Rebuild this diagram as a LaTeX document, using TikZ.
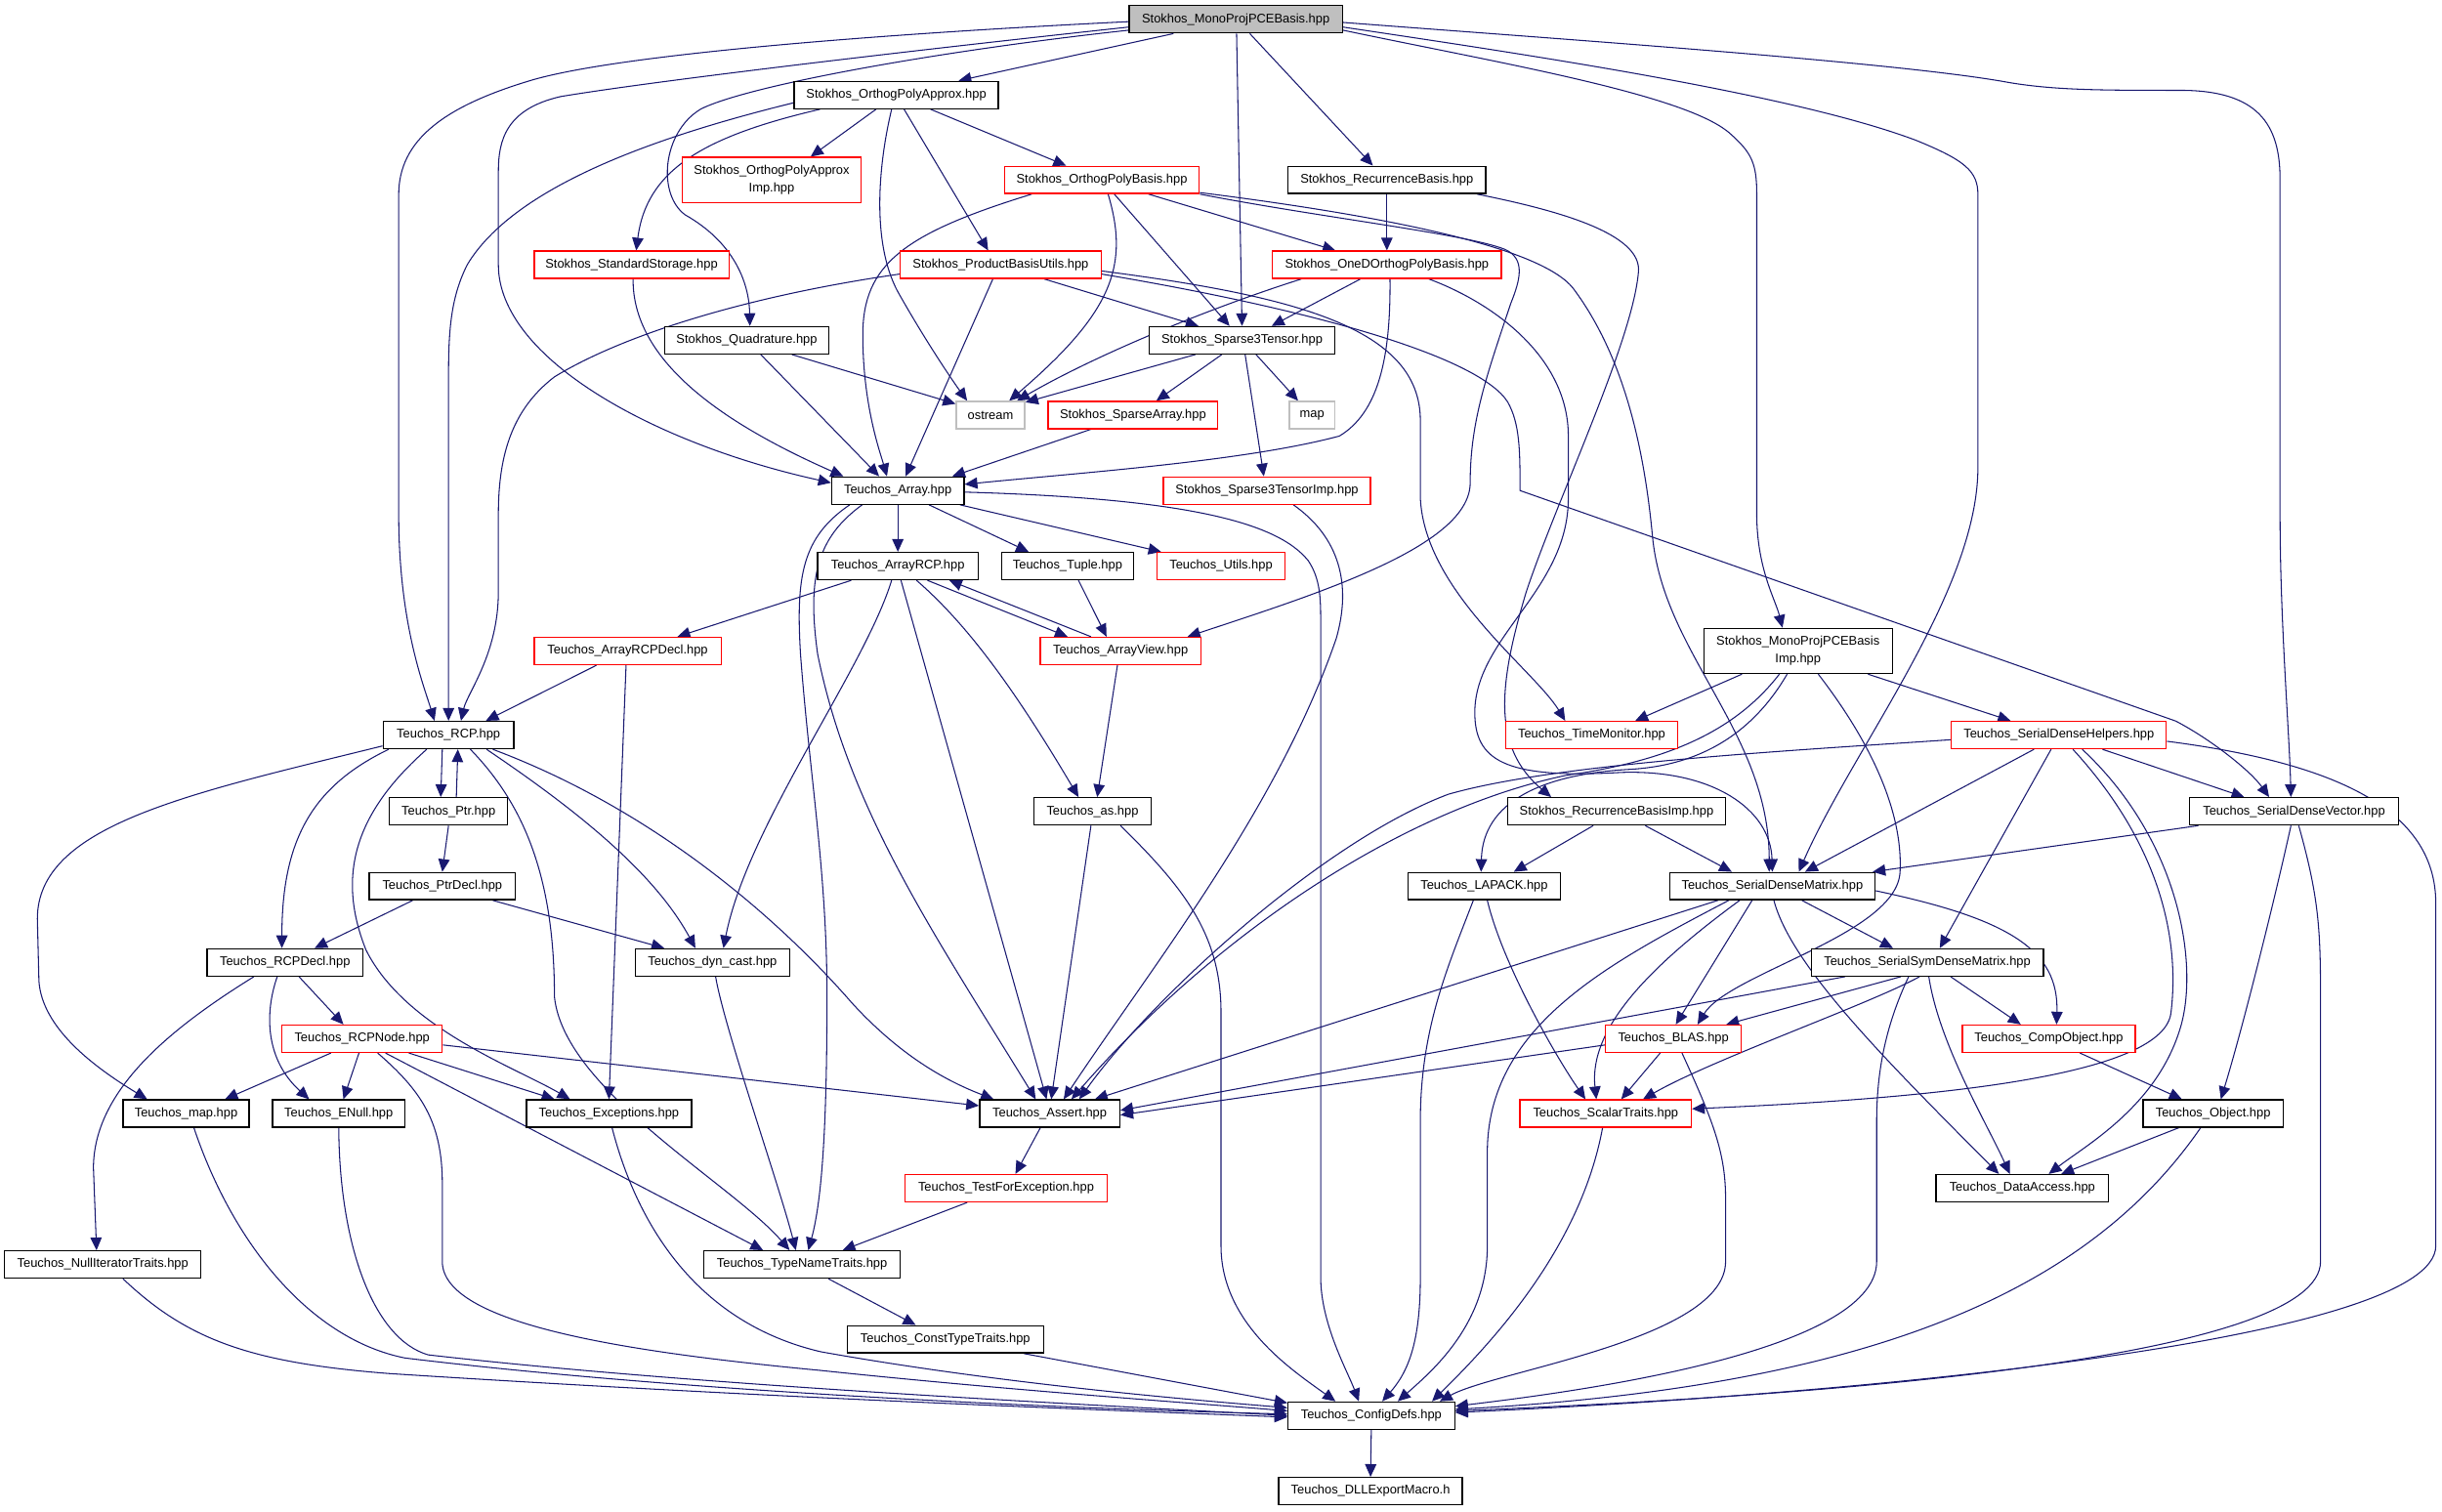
\documentclass[tikz,border=0pt]{standalone}
\usepackage{fontspec}
\setmainfont{Liberation Sans}
\usetikzlibrary{arrows.meta,calc,backgrounds}
\definecolor{edgec}{HTML}{191970}
\definecolor{gfill}{HTML}{BFBFBF}
\newcommand\nodefont{\fontsize{3.67pt}{5.1pt}\selectfont}
\tikzset{
  nb/.style={draw=black, line width=0.38pt, fill=white, inner xsep=0pt, inner ysep=0pt, minimum height=0.279cm, font=\nodefont, align=center},
  nr/.style={nb, draw=red},
  ng/.style={nb, draw=gfill},
  w/.style={minimum width=#1*0.015944cm},
  tall/.style={minimum height=0.462cm},
  e/.style={draw=edgec, line width=0.3pt, -{Triangle[length=3.7pt,width=3.3pt]}},
}
\begin{document}
\begin{tikzpicture}[x=0.015944cm, y=-0.015944cm]
\useasboundingbox (0,0) rectangle (1568,970.3);
% nodes
\node[nb,w=137,fill=gfill] (T) at (793.5,12.4) {Stokhos\_MonoProjPCEBasis.hpp};
\node[nb,w=131] (OPA) at (575.5,61) {Stokhos\_OrthogPolyApprox.hpp};
\node[nr,w=115,tall] (OPAImp) at (495.5,115.5) {Stokhos\_OrthogPolyApprox\\Imp.hpp};
\node[nr,w=125] (OPB) at (707.5,115.5) {Stokhos\_OrthogPolyBasis.hpp};
\node[nb,w=127] (RB) at (890.5,115.5) {Stokhos\_RecurrenceBasis.hpp};
\node[nr,w=125] (SS) at (405.5,170) {Stokhos\_StandardStorage.hpp};
\node[nr,w=129] (PBU) at (642.5,170) {Stokhos\_ProductBasisUtils.hpp};
\node[nr,w=147] (OneD) at (890.5,170) {Stokhos\_OneDOrthogPolyBasis.hpp};
\node[nb,w=105] (Quad) at (479.5,218.5) {Stokhos\_Quadrature.hpp};
\node[nb,w=119] (S3T) at (797.5,218.5) {Stokhos\_Sparse3Tensor.hpp};
\node[ng,w=44] (ostream) at (636,266.5) {ostream};
\node[nr,w=109] (SA) at (727.5,266.5) {Stokhos\_SparseArray.hpp};
\node[ng,w=29] (map) at (842.5,266.5) {map};
\node[nb,w=85] (Array) at (576.5,315) {Teuchos\_Array.hpp};
\node[nr,w=133] (S3TImp) at (813.5,315) {Stokhos\_Sparse3TensorImp.hpp};
\node[nb,w=103] (ArrayRCP) at (576.5,363.5) {Teuchos\_ArrayRCP.hpp};
\node[nb,w=85] (Tuple) at (685.5,363.5) {Teuchos\_Tuple.hpp};
\node[nr,w=82] (Utils) at (784,363.5) {Teuchos\_Utils.hpp};
\node[nr,w=120] (ArrayRCPDecl) at (403,418) {Teuchos\_ArrayRCPDecl.hpp};
\node[nr,w=103] (ArrayView) at (719.5,418) {Teuchos\_ArrayView.hpp};
\node[nb,w=121,tall] (MPImp) at (1154.5,418) {Stokhos\_MonoProjPCEBasis\\Imp.hpp};
\node[nb,w=84] (RCP) at (288,472) {Teuchos\_RCP.hpp};
\node[nr,w=110] (TimeMonitor) at (1022,472) {Teuchos\_TimeMonitor.hpp};
\node[nr,w=138] (SDH) at (1322,472) {Teuchos\_SerialDenseHelpers.hpp};
\node[nb,w=76] (Ptr) at (288,521) {Teuchos\_Ptr.hpp};
\node[nb,w=75] (as) at (701.5,521) {Teuchos\_as.hpp};
\node[nb,w=140] (RBImp) at (1038,521) {Stokhos\_RecurrenceBasisImp.hpp};
\node[nb,w=134] (SDV) at (1473,521) {Teuchos\_SerialDenseVector.hpp};
\node[nb,w=94] (PtrDecl) at (284,569) {Teuchos\_PtrDecl.hpp};
\node[nb,w=98] (LAPACK) at (953,569) {Teuchos\_LAPACK.hpp};
\node[nb,w=132] (SDM) at (1138,569) {Teuchos\_SerialDenseMatrix.hpp};
\node[nb,w=100] (RCPDecl) at (183,618) {Teuchos\_RCPDecl.hpp};
\node[nb,w=99] (dyncast) at (457.5,618) {Teuchos\_dyn\_cast.hpp};
\node[nb,w=149] (SSDM) at (1237.5,618) {Teuchos\_SerialSymDenseMatrix.hpp};
\node[nr,w=103] (RCPNode) at (232.5,667) {Teuchos\_RCPNode.hpp};
\node[nr,w=87] (BLAS) at (1074.5,667) {Teuchos\_BLAS.hpp};
\node[nr,w=111] (CompObject) at (1315.5,667) {Teuchos\_CompObject.hpp};
\node[nb,w=81] (tmap) at (119.5,715) {Teuchos\_map.hpp};
\node[nb,w=85] (ENull) at (217.5,715) {Teuchos\_ENull.hpp};
\node[nb,w=106] (Exceptions) at (391,715) {Teuchos\_Exceptions.hpp};
\node[nb,w=90] (Assert) at (674,715) {Teuchos\_Assert.hpp};
\node[nr,w=110] (ScalarTraits) at (1031,715) {Teuchos\_ScalarTraits.hpp};
\node[nb,w=90] (Object) at (1421,715) {Teuchos\_Object.hpp};
\node[nr,w=130] (TFE) at (646,763) {Teuchos\_TestForException.hpp};
\node[nb,w=111] (DataAccess) at (1298.5,763) {Teuchos\_DataAccess.hpp};
\node[nb,w=126] (NullIter) at (66,812) {Teuchos\_NullIteratorTraits.hpp};
\node[nb,w=126] (TypeName) at (515,812) {Teuchos\_TypeNameTraits.hpp};
\node[nb,w=126] (ConstType) at (607,860) {Teuchos\_ConstTypeTraits.hpp};
\node[nb,w=107] (ConfigDefs) at (880.5,909) {Teuchos\_ConfigDefs.hpp};
\node[nb,w=118] (DLL) at (880,957.5) {Teuchos\_DLLExportMacro.h};
\begin{pgfonlayer}{background}
\fill[white] (0,0) rectangle (1568,970.3);
% T
\draw[e] ($(T.south)+(-40,0)$) -- ($(OPA.north)+(40,0)$);
\draw[e] ($(T.south)+(0.5,0)$) -- (S3T.north);
\draw[e] ($(T.south)+(9,0)$) -- ($(RB.north)+(-9,0)$);
\draw[e] ($(T.west)+(0,1.5)$) .. controls (560,22) and (400,35) .. (343,51) .. controls (285,68) and (256,90) .. (256,125) -- (256,330) .. controls (256,400) and (272,440) .. ($(RCP.north)+(-9,0)$);
\draw[e] ($(T.west)+(0,5)$) .. controls (580,33) and (420,52) .. (360,62) .. controls (325,70) and (320,90) .. (320,110) -- (320,170) .. controls (320,230) and (420,285) .. ($(Array.west)+(0,-5)$);
\draw[e] ($(T.west)+(0,7)$) .. controls (600,33) and (480,55) .. (450,70) .. controls (425,85) and (422,125) .. (440,138) .. controls (470,155) and (481,180) .. ($(Quad.north)+(2,0)$);
\draw[e] ($(T.east)+(0,7)$) .. controls (960,40) and (1080,60) .. (1110,85) .. controls (1125,98) and (1128,105) .. (1128,125) -- (1128,330) .. controls (1128,365) and (1140,385) .. ($(MPImp.north)+(-10,0)$);
\draw[e] ($(T.east)+(0,5)$) .. controls (980,35) and (1150,60) .. (1230,90) .. controls (1262,103) and (1270,110) .. (1270,125) -- (1270,300) .. controls (1270,380) and (1190,480) .. ($(SDM.north)+(17,0)$);
\draw[e] ($(T.east)+(0,2)$) .. controls (1000,25) and (1220,40) .. (1290,53) .. controls (1320,58) and (1350,58) .. (1400,58) .. controls (1450,58) and (1464,80) .. (1464,115) -- (1464,330) .. controls (1464,400) and (1470,470) .. ($(SDV.north)+(-2,0)$);
% OPA
\draw[e] ($(OPA.west)+(0,5)$) .. controls (420,88) and (330,120) .. (300,170) .. controls (290,190) and (288,210) .. (288,240) -- (RCP.north);
\draw[e] ($(OPA.south)+(-49,0)$) .. controls (450,88) and (415,110) .. ($(SS.north)+(3,0)$);
\draw[e] ($(OPA.south)+(-13,0)$) -- ($(OPAImp.north)+(25,0)$);
\draw[e] ($(OPA.south)+(-3,0)$) .. controls (563,110) and (560,160) .. (578,190) .. controls (595,220) and (612,245) .. ($(ostream.north)+(-15,0)$);
\draw[e] ($(OPA.south)+(5,0)$) -- ($(PBU.north)+(-8,0)$);
\draw[e] ($(OPA.south)+(22,0)$) -- ($(OPB.north)+(-23,0)$);
% OPB
\draw[e] ($(OPB.south)+(-45,0)$) .. controls (580,150) and (554,170) .. (554,215) .. controls (554,260) and (565,290) .. ($(Array.north)+(-7,0)$);
\draw[e] ($(OPB.south)+(4,0)$) .. controls (725,170) and (715,200) .. ($(ostream.north)+(12,0)$);
\draw[e] ($(OPB.south)+(8,0)$) -- ($(S3T.north)+(-8,0)$);
\draw[e] ($(OPB.south)+(30,0)$) -- ($(OneD.north)+(-33,0)$);
\draw[e] (OPB.south east) .. controls (850,140) and (940,150) .. (966,160) .. controls (980,166) and (976,180) .. (970,195) .. controls (955,240) and (944,270) .. (944,310) .. controls (944,350) and (850,380) .. ($(ArrayView.north)+(43,0)$);
\draw[e] ($(OPB.south east)+(0,-1)$) .. controls (900,140) and (990,160) .. (1010,185) .. controls (1040,225) and (1055,280) .. (1061,344) .. controls (1068,420) and (1136,470) .. ($(SDM.north)+(-2,0)$);
% RB
\draw[e] (RB.south) -- (OneD.north);
\draw[e] ($(RB.south east)+(-6,0)$) .. controls (1000,135) and (1055,150) .. (1052,175) .. controls (1048,220) and (1000,320) .. (980,380) .. controls (962,440) and (958,480) .. ($(RBImp.north)+(-42,0)$);
% SS
\draw[e] ($(SS.south)+(1,0)$) .. controls (406,230) and (460,270) .. ($(Array.north)+(-35,0)$);
% PBU
\draw[e] ($(PBU.west)+(0,6)$) .. controls (480,190) and (400,215) .. (356,242) .. controls (330,262) and (320,290) .. (320,330) -- (320,380) .. controls (320,420) and (300,445) .. ($(RCP.north)+(8,0)$);
\draw[e] ($(PBU.south)+(-5,0)$) -- ($(Array.north)+(5,0)$);
\draw[e] ($(PBU.south)+(28,0)$) -- ($(S3T.north)+(-28,0)$);
\draw[e] ($(PBU.east)+(0,4)$) .. controls (830,190) and (912,210) .. (912,270) -- (912,320) .. controls (915,380) and (985,430) .. ($(TimeMonitor.north)+(-17,0)$);
\draw[e] ($(PBU.east)+(0,6)$) .. controls (850,200) and (950,230) .. (968,258) .. controls (976,272) and (976,290) .. (976,315) -- (1397,463) .. controls (1420,475) and (1445,495) .. ($(SDV.north)+(-16,0)$);
% Quad
\draw[e] ($(Quad.south)+(9,0)$) -- ($(Array.north)+(-12,0)$);
\draw[e] ($(Quad.south)+(29,0)$) -- ($(ostream.north west)+(0,2)$);
% S3T
\draw[e] ($(S3T.south)+(-30,0)$) -- ($(ostream.north east)+(0,1)$);
\draw[e] ($(S3T.south)+(-13,0)$) -- ($(SA.north)+(15,0)$);
\draw[e] ($(S3T.south)+(9,0)$) -- ($(map.north)+(-9,0)$);
\draw[e] ($(S3T.south)+(2,0)$) -- ($(S3TImp.north)+(-2,0)$);
% OneD
\draw[e] ($(OneD.south west)+(19,0)$) .. controls (770,200) and (700,230) .. ($(ostream.north)+(17,0)$);
\draw[e] ($(OneD.south)+(-17,0)$) -- ($(S3T.north)+(19,0)$);
\draw[e] ($(OneD.south)+(2,0)$) .. controls (893,230) and (885,265) .. (860,280) .. controls (800,296) and (700,303) .. ($(Array.east)+(0,-4)$);
\draw[e] ($(OneD.south)+(27,0)$) .. controls (960,195) and (1007,230) .. (1007,280) -- (1007,320) .. controls (1007,380) and (945,410) .. (947,460) .. controls (948,490) and (970,500) .. (1041,496) .. controls (1100,494) and (1137,520) .. (SDM.north);
% SA, S3TImp
\draw[e] ($(SA.south)+(-27,0)$) -- ($(Array.north)+(35,0)$);
\draw[e] ($(S3TImp.south)+(17,0)$) .. controls (860,345) and (868,375) .. (858,410) .. controls (820,520) and (740,620) .. ($(Assert.north)+(9,0)$);
% Array
\draw[e] (Array.south) -- (ArrayRCP.north);
\draw[e] ($(Array.south)+(20,0)$) -- ($(Tuple.north)+(-25,0)$);
\draw[e] ($(Array.south east)+(-3,0)$) -- ($(Utils.north west)+(3,0)$);
\draw[e] ($(Array.east)+(0,1)$) .. controls (760,320) and (820,335) .. (840,360) .. controls (848,372) and (848,385) .. (848,400) -- (848,820) .. controls (848,850) and (865,880) .. ($(ConfigDefs.north)+(-8,0)$);
\draw[e] ($(Array.south west)+(12,0)$) .. controls (515,345) and (511,370) .. (514,420) .. controls (520,500) and (531,560) .. (531,640) .. controls (531,720) and (528,770) .. ($(TypeName.north)+(4,0)$);
\draw[e] ($(Array.south west)+(20,0)$) .. controls (525,345) and (518,370) .. (525,420) .. controls (545,520) and (600,600) .. ($(Assert.north)+(-9,0)$);
% ArrayRCP
\draw[e] ($(ArrayRCP.south west)+(22,0)$) -- ($(ArrayRCPDecl.north)+(32,0)$);
\draw[e] ($(ArrayRCP.south)+(-4,0)$) .. controls (555,430) and (480,530) .. ($(dyncast.north)+(7,0)$);
\draw[e] ($(ArrayRCP.south)+(2,0)$) -- ($(Assert.north)+(-2,0)$);
\draw[e] ($(ArrayRCP.south)+(12,0)$) .. controls (620,400) and (650,440) .. ($(as.north)+(-9,0)$);
\draw[e] ($(ArrayRCP.south)+(19,0)$) -- ($(ArrayView.north)+(-34,0)$);
% ArrayView, Tuple
\draw[e] ($(ArrayView.north)+(-19,0)$) -- ($(ArrayRCP.south)+(33,0)$);
\draw[e] ($(Tuple.south)+(7,0)$) -- ($(ArrayView.north)+(-9,0)$);
\draw[e] ($(ArrayView.south)+(-2,0)$) -- ($(as.north)+(3,0)$);
% ArrayRCPDecl
\draw[e] ($(ArrayRCPDecl.south)+(-20,0)$) -- ($(RCP.north)+(24,0)$);
\draw[e] ($(ArrayRCPDecl.south)+(-1,0)$) -- (Exceptions.north);
% as
\draw[e] ($(as.south)+(-1,0)$) -- ($(Assert.north)+(1,0)$);
\draw[e] ($(as.south)+(18,0)$) .. controls (760,570) and (784,600) .. (784,650) -- (784,800) .. controls (784,850) and (830,880) .. ($(ConfigDefs.north)+(-23,0)$);
% RCP
\draw[e] ($(RCP.south)+(-4,0)$) -- ($(Ptr.north)+(-5,0)$);
\draw[e] ($(Ptr.north)+(5,0)$) -- ($(RCP.south)+(6,0)$);
\draw[e] ($(RCP.south west)+(4,0)$) .. controls (200,505) and (181,540) .. ($(RCPDecl.north)+(-2,0)$);
\draw[e] ($(RCP.west)+(0,7)$) .. controls (120,510) and (24,530) .. (24,590) -- (25,630) .. controls (27,660) and (60,685) .. ($(tmap.north)+(-25,0)$);
\draw[e] ($(RCP.south)+(-14,0)$) .. controls (230,520) and (215,560) .. (235,610) .. controls (260,660) and (330,685) .. ($(Exceptions.north)+(-25,0)$);
\draw[e] ($(RCP.south)+(14,0)$) .. controls (340,520) and (356,570) .. (356,640) .. controls (362,700) and (470,760) .. ($(TypeName.north)+(-8,0)$);
\draw[e] ($(RCP.south east)+(-18,0)$) .. controls (370,520) and (420,560) .. ($(dyncast.north)+(-11,0)$);
\draw[e] ($(RCP.south east)+(-14,0)$) .. controls (420,520) and (500,590) .. (547,644) .. controls (580,680) and (610,695) .. ($(Assert.north)+(-36,0)$);
% Ptr, PtrDecl
\draw[e] (Ptr.south) -- (PtrDecl.north);
\draw[e] ($(PtrDecl.south)+(-19,0)$) -- ($(RCPDecl.north)+(19,0)$);
\draw[e] ($(PtrDecl.south east)+(-15,0)$) -- ($(dyncast.north)+(-31,0)$);
% RCPDecl
\draw[e] ($(RCPDecl.south)+(-20,0)$) .. controls (110,660) and (60,700) .. (60,750) -- ($(NullIter.north)+(-4,0)$);
\draw[e] ($(RCPDecl.south)+(-5,0)$) .. controls (170,650) and (170,680) .. ($(ENull.north)+(-19,0)$);
\draw[e] ($(RCPDecl.south)+(9,0)$) -- ($(RCPNode.north)+(-12,0)$);
% dyn_cast
\draw[e] ($(dyncast.south)+(2,0)$) .. controls (465,660) and (500,760) .. ($(TypeName.north)+(-4,0)$);
% RCPNode
\draw[e] ($(RCPNode.south)+(-20,0)$) -- ($(tmap.north)+(25,0)$);
\draw[e] ($(RCPNode.south)+(-2,0)$) -- ($(ENull.north)+(3,0)$);
\draw[e] ($(RCPNode.south)+(30,0)$) -- ($(Exceptions.north)+(-35,0)$);
\draw[e] ($(RCPNode.east)+(0,4)$) -- ($(Assert.west)+(0,-5)$);
\draw[e] ($(RCPNode.south)+(15,0)$) -- ($(TypeName.north)+(-25,0)$);
\draw[e] ($(RCPNode.south)+(10,0)$) .. controls (270,700) and (284,720) .. (284,760) -- (284,810) .. controls (284,850) and (400,868) .. (527,880) .. controls (650,893) and (780,902) .. ($(ConfigDefs.west)+(0,-3)$);
% leaves to ConfigDefs
\draw[e] ($(tmap.south)+(5,0)$) .. controls (150,800) and (200,860) .. (260,872) .. controls (450,895) and (700,905) .. ($(ConfigDefs.west)+(0,-1)$);
\draw[e] (ENull.south) .. controls (218,800) and (240,860) .. (275,870) .. controls (450,890) and (700,902) .. ($(ConfigDefs.west)+(0,0)$);
\draw[e] ($(NullIter.south)+(13,0)$) .. controls (120,860) and (160,875) .. (250,882) .. controls (500,898) and (700,905) .. ($(ConfigDefs.west)+(0,1)$);
\draw[e] ($(Exceptions.south)+(2,0)$) .. controls (410,790) and (450,850) .. (527,868) .. controls (650,890) and (780,900) .. ($(ConfigDefs.west)+(0,-5)$);
\draw[e] ($(ConstType.south east)+(-13,0)$) -- ($(ConfigDefs.north west)+(0,1)$);
\draw[e] ($(TypeName.south)+(17,0)$) -- ($(ConstType.north)+(-19,0)$);
% Assert, TFE, ConfigDefs
\draw[e] ($(Assert.south)+(-6,0)$) -- ($(TFE.north)+(6,0)$);
\draw[e] ($(TFE.south)+(-25,0)$) -- ($(TypeName.north)+(26,0)$);
\draw[e] (ConfigDefs.south) -- (DLL.north);
% MPImp
\draw[e] ($(MPImp.south)+(-36,0)$) -- ($(TimeMonitor.north)+(28,0)$);
\draw[e] ($(MPImp.south east)+(-16,0)$) -- ($(SDH.north)+(-31,0)$);
\draw[e] ($(MPImp.south)+(13,0)$) .. controls (1200,475) and (1222,520) .. (1220,560) .. controls (1218,600) and (1110,625) .. ($(BLAS.north)+(15.5,0)$);
\draw[e] ($(MPImp.south)+(-7,0)$) .. controls (1120,480) and (1080,492) .. (1047,494) .. controls (990,497) and (952,515) .. ($(LAPACK.north)+(-2,0)$);
\draw[e] ($(MPImp.south)+(-12,0)$) .. controls (1110,475) and (1060,490) .. (1005,498) .. controls (900,520) and (780,600) .. ($(Assert.north)+(14,0)$);
% SDH
\draw[e] ($(SDH.south)+(-16,0)$) -- ($(SDM.north)+(21,0)$);
\draw[e] ($(SDH.south)+(-5,0)$) -- ($(SSDM.north)+(8,0)$);
\draw[e] ($(SDH.south)+(28,0)$) -- ($(SDV.north)+(-32,0)$);
\draw[e] ($(SDH.south)+(9,0)$) .. controls (1385,540) and (1400,600) .. (1394,650) .. controls (1390,690) and (1250,705) .. ($(ScalarTraits.east)+(0,-3)$);
\draw[e] ($(SDH.south)+(15,0)$) .. controls (1400,540) and (1412,620) .. (1400,660) .. controls (1385,710) and (1340,735) .. ($(DataAccess.north)+(17,0)$);
\draw[e] ($(SDH.east)+(0,4)$) .. controls (1500,490) and (1564,520) .. (1564,580) -- (1564,800) .. controls (1564,860) and (1200,895) .. ($(ConfigDefs.east)+(0,-2)$);
\draw[e] ($(SDH.west)+(0,3)$) .. controls (1150,482) and (1000,490) .. (930,510) .. controls (850,540) and (740,640) .. ($(Assert.north)+(19,0)$);
% SDV
\draw[e] ($(SDV.south west)+(6,0)$) -- ($(SDM.north east)+(-2,0)$);
\draw[e] ($(SDV.south)+(-2,0)$) .. controls (1460,580) and (1440,660) .. ($(Object.north)+(5,0)$);
\draw[e] ($(SDV.south)+(3,0)$) .. controls (1490,580) and (1490,600) .. (1490,650) -- (1490,810) .. controls (1490,870) and (1200,895) .. ($(ConfigDefs.east)+(0,-3)$);
% RBImp
\draw[e] ($(RBImp.south)+(-15,0)$) -- ($(LAPACK.north)+(19,0)$);
\draw[e] ($(RBImp.south east)+(-52,0)$) -- ($(SDM.north)+(-26,0)$);
% LAPACK
\draw[e] ($(LAPACK.south)+(-7,0)$) .. controls (930,620) and (912,660) .. (912,720) -- (912,820) .. controls (912,860) and (905,880) .. ($(ConfigDefs.north)+(7,0)$);
\draw[e] ($(LAPACK.south)+(2,0)$) .. controls (965,620) and (1000,680) .. ($(ScalarTraits.north)+(-13,0)$);
% SDM
\draw[e] ($(SDM.south)+(19,0)$) -- ($(SSDM.north)+(-22,0)$);
\draw[e] ($(SDM.east)+(0,3)$) .. controls (1290,590) and (1322,610) .. ($(CompObject.north)+(5,0)$);
\draw[e] ($(SDM.south)+(1,0)$) .. controls (1150,620) and (1210,680) .. ($(DataAccess.north)+(-15,0)$);
\draw[e] ($(SDM.south)+(-13,0)$) -- ($(BLAS.north)+(1.5,0)$);
\draw[e] ($(SDM.south)+(-21,0)$) .. controls (1060,620) and (1020,660) .. ($(ScalarTraits.north)+(-6,0)$);
\draw[e] ($(SDM.south)+(-35,0)$) -- ($(Assert.north)+(29,0)$);
\draw[e] ($(SDM.south)+(-28,0)$) .. controls (1030,620) and (955,660) .. (955,740) -- (955,800) .. controls (955,850) and (920,880) .. ($(ConfigDefs.north)+(17,0)$);
% SSDM
\draw[e] ($(SSDM.south west)+(22,0)$) -- ($(Assert.east)+(0,-2)$);
\draw[e] ($(SSDM.south)+(-17,0)$) -- ($(BLAS.north east)+(-10,0)$);
\draw[e] ($(SSDM.south)+(-5,0)$) .. controls (1200,645) and (1100,680) .. ($(ScalarTraits.north)+(24,0)$);
\draw[e] ($(SSDM.south)+(-12,0)$) .. controls (1210,660) and (1205,690) .. (1205,720) -- (1205,810) .. controls (1205,870) and (1000,895) .. ($(ConfigDefs.east)+(0,-6)$);
\draw[e] ($(SSDM.south)+(1,0)$) .. controls (1245,670) and (1275,720) .. ($(DataAccess.north)+(-8,0)$);
\draw[e] ($(SSDM.south)+(15,0)$) -- ($(CompObject.north)+(-18,0)$);
% BLAS
\draw[e] ($(BLAS.west)+(0,4)$) -- ($(Assert.east)+(0,1)$);
\draw[e] ($(BLAS.south)+(-8.5,0)$) -- ($(ScalarTraits.north)+(10,0)$);
\draw[e] ($(BLAS.south)+(5.5,0)$) .. controls (1100,720) and (1108,740) .. (1108,770) -- (1108,810) .. controls (1108,860) and (960,880) .. ($(ConfigDefs.north east)+(-10,0)$);
% ScalarTraits, CompObject, Object
\draw[e] ($(ScalarTraits.south)+(-2,0)$) .. controls (1015,800) and (960,860) .. ($(ConfigDefs.north)+(39,0)$);
\draw[e] ($(CompObject.south)+(20,0)$) -- ($(Object.north)+(-20,0)$);
\draw[e] ($(Object.south)+(-22,0)$) -- ($(DataAccess.north)+(25,0)$);
\draw[e] ($(Object.south)+(-8,0)$) .. controls (1340,830) and (1200,890) .. ($(ConfigDefs.east)+(0,-4)$);
\end{pgfonlayer}
\end{tikzpicture}
\end{document}
